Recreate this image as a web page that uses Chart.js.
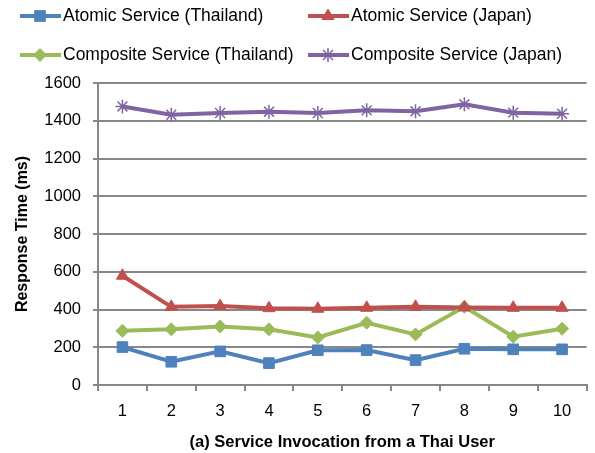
<!DOCTYPE html>
<html>
<head>
<meta charset="utf-8">
<script src="https://cdn.jsdelivr.net/npm/chart.js@4.4.1/dist/chart.umd.min.js"></script>
<style>
  html, body { margin: 0; padding: 0; background: #fff; }
  #wrap { width: 595px; height: 453px; position: relative; }
</style>
</head>
<body>
<div id="wrap"><canvas id="chart" width="595" height="453"></canvas></div>
<script>
// Data
const invocations = ['1', '2', '3', '4', '5', '6', '7', '8', '9', '10'];
const atomicThailand = [201, 123, 178, 116, 184, 185, 132, 192, 189, 189];
const atomicJapan = [579, 414, 418, 407, 404, 409, 414, 411, 409, 409];
const compositeThailand = [287, 295, 310, 295, 252, 330, 268, 414, 256, 298];
const compositeJapan = [1476, 1432, 1441, 1448, 1441, 1455, 1450, 1487, 1443, 1437];
const yTicks = [0, 200, 400, 600, 800, 1000, 1200, 1400, 1600];

const FONT = "'Liberation Sans', Arial, sans-serif";
const GRID = '#878787';

function series(label, data, color, style, radius) {
    return {
        label: label,
        data: data,
        borderColor: color,
        backgroundColor: color,
        borderWidth: 4,
        pointStyle: style,
        pointRadius: radius,
        pointHoverRadius: radius,
        pointBorderWidth: style === 'star' ? 1.5 : 1,
        pointBorderColor: color,
        pointBackgroundColor: color,
        tension: 0
    };
}

// Legend drawn as two rows of two entries, line with marker in the middle
const legendPlugin = {
    id: 'twoRowLegend',
    afterDraw(chart) {
        const ctx = chart.ctx;
        const spots = [[20, 16], [308, 16], [20, 55], [308, 55]];
        chart.data.datasets.forEach((ds, i) => {
            const [x, y] = spots[i];
            ctx.save();
            ctx.strokeStyle = ds.borderColor;
            ctx.fillStyle = ds.backgroundColor;
            ctx.lineWidth = 4;
            ctx.beginPath();
            ctx.moveTo(x, y);
            ctx.lineTo(x + 41, y);
            ctx.stroke();
            ctx.lineWidth = ds.pointBorderWidth;
            Chart.helpers.drawPoint(ctx, {
                pointStyle: ds.pointStyle,
                radius: ds.pointRadius,
                borderWidth: ds.pointBorderWidth,
                rotation: 0
            }, x + 20, y);
            ctx.fillStyle = '#000';
            ctx.font = '17.5px ' + FONT;
            ctx.textBaseline = 'middle';
            ctx.fillText(ds.label, x + 43, y);
            ctx.restore();
        });
    }
};

const ctx = document.getElementById('chart').getContext('2d');
const responseChart = new Chart(ctx, {
    type: 'line',
    data: {
        labels: invocations,
        datasets: [
            series('Atomic Service (Thailand)', atomicThailand, '#4F81BD', 'rect', 7.5),
            series('Atomic Service (Japan)', atomicJapan, '#C0504D', 'triangle', 7),
            series('Composite Service (Thailand)', compositeThailand, '#9BBB59', 'rectRot', 6.5),
            series('Composite Service (Japan)', compositeJapan, '#8064A2', 'star', 7)
        ]
    },
    options: {
        responsive: false,
        animation: false,
        layout: { padding: { top: 83, left: 0, right: 4, bottom: 0 } },
        plugins: {
            legend: { display: false },
            tooltip: { enabled: false }
        },
        scales: {
            x: {
                offset: true,
                afterFit(scale) { scale.height = 68; },
                grid: {
                    offset: true,
                    drawOnChartArea: false,
                    drawTicks: true,
                    tickLength: 6,
                    color: GRID,
                    lineWidth: 2
                },
                border: { color: GRID, width: 2 },
                ticks: {
                    color: '#000',
                    font: { family: FONT, size: 16.5 },
                    padding: 11,
                    maxRotation: 0
                },
                title: {
                    display: true,
                    text: '(a) Service Invocation from a Thai User',
                    color: '#000',
                    font: { family: FONT, size: 16.5, weight: 'bold' },
                    padding: { top: 0, bottom: 1 }
                }
            },
            y: {
                min: 0,
                max: 1600,
                afterFit(scale) { scale.width = 98; },
                afterBuildTicks(scale) { scale.ticks = yTicks.map(v => ({ value: v })); },
                grid: {
                    color: GRID,
                    lineWidth: 2,
                    tickLength: 5
                },
                border: { color: GRID, width: 2 },
                ticks: {
                    color: '#000',
                    font: { family: FONT, size: 16.5 },
                    padding: 12,
                    callback: v => String(v)
                },
                title: {
                    display: true,
                    text: 'Response Time (ms)',
                    color: '#000',
                    font: { family: FONT, size: 16, weight: 'bold' },
                    padding: { top: 13, bottom: 0 }
                }
            }
        }
    },
    plugins: [legendPlugin]
});
</script>
</body>
</html>
